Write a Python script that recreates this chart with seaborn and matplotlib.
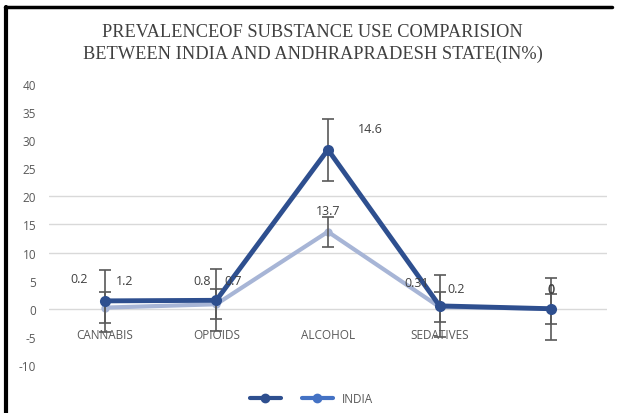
import matplotlib
matplotlib.use("Agg")
import matplotlib.pyplot as plt
from matplotlib.lines import Line2D
import seaborn as sns
import numpy as np
import pandas as pd

# ---- data ----
categories = ["CANNABIS", "OPIOIDS", "ALCOHOL", "SEDATIVES", ""]
series_a = [0.2, 0.8, 13.7, 0.31, 0]     # lower (light) series
series_b = [1.2, 0.7, 14.6, 0.2, 0]      # upper (dark) series, stacked on series_a
err_a = 2.7
err_b = 5.5
legend_labels = ["", "INDIA"]
yticks = [-10, -5, 0, 5, 10, 15, 20, 25, 30, 35, 40]
grid_levels = [0, 10, 15, 20]
title = "PREVALENCEOF SUBSTANCE USE COMPARISION\nBETWEEN INDIA AND ANDHRAPRADESH STATE(IN%)"

# ---- layout-only offsets for data labels (pixels) ----
off_a = [(-25, 29), (-14, 24), (0, 21), (-23, 25), (0, 19)]
off_b = [(20, 20), (17, 20), (42, 21), (17, 17), (0, 20)]

stack_b = np.add(series_a, series_b)
pos = np.arange(len(categories))
df = pd.DataFrame({
    "pos": np.concatenate([pos, pos]),
    "value": np.concatenate([series_a, stack_b]),
    "series": ["A"] * len(pos) + ["B"] * len(pos),
})

sns.set_theme(style="white")
plt.rcParams["font.family"] = ["Open Sans", "DejaVu Sans"]

fig = plt.figure(figsize=(6.17, 4.14), dpi=100)
ax = fig.add_axes([0.079, 0.116, 0.905, 0.679])

dark = "#2E4F8F"
light = "#A7B5D6"
errc = "#595959"

for lv in grid_levels:
    ax.axhline(lv, color="#D9D9D9", lw=1, zorder=0)

ax.errorbar(pos, series_a, yerr=err_a, fmt="none", ecolor=errc, elinewidth=1.2,
            capsize=4, capthick=1.2, zorder=4)
ax.errorbar(pos, stack_b, yerr=err_b, fmt="none", ecolor=errc, elinewidth=1.2,
            capsize=4, capthick=1.2, zorder=4)

sns.lineplot(data=df[df.series == "A"], x="pos", y="value", color=light, lw=3,
             marker="o", markersize=6, markeredgewidth=0, ax=ax, zorder=3, legend=False)
sns.lineplot(data=df[df.series == "B"], x="pos", y="value", color=dark, lw=3.5,
             marker="o", markersize=8, markeredgewidth=0, ax=ax, zorder=5, legend=False)

lab_kw = dict(textcoords="offset pixels", ha="center", va="center", fontsize=9, color="#404040", zorder=6)
for i in range(len(pos)):
    ax.annotate(f"{series_a[i]:g}", (pos[i], series_a[i]), xytext=off_a[i], **lab_kw)
    ax.annotate(f"{series_b[i]:g}", (pos[i], stack_b[i]), xytext=off_b[i], **lab_kw)
    ax.annotate(categories[i], (pos[i], 0), xytext=(0, -26), textcoords="offset pixels",
                ha="center", va="center", fontsize=8.5, color="#595959")

ax.set_xlim(-0.5, len(pos) - 0.5)
ax.set_ylim(-10, 40)
ax.set_yticks(yticks)
ax.set_yticklabels([str(t) for t in yticks], fontsize=8.5, color="#595959")
ax.set_xticks([])
ax.tick_params(axis="y", length=0, pad=9)
ax.set_xlabel("")
ax.set_ylabel("")
for s in ax.spines.values():
    s.set_visible(False)

fig.text(0.507, 0.895, title, ha="center", va="center", fontsize=13.2, color="#404040",
         family=["Liberation Serif", "DejaVu Serif"], linespacing=1.3)

handles = [Line2D([0], [0], color=dark, lw=3, marker="o", markersize=6),
           Line2D([0], [0], color="#4472C4", lw=3, marker="o", markersize=6)]
fig.legend(handles, legend_labels, loc="center", bbox_to_anchor=(0.505, 0.035), ncol=2,
           frameon=False, fontsize=8.5, handlelength=2.6, columnspacing=1.0,
           labelcolor="#595959")

# figure frame (top and left lines)
fig.add_artist(Line2D([0.008, 0.992], [0.981, 0.981], color="black", lw=2.5, transform=fig.transFigure))
fig.add_artist(Line2D([0.009, 0.009], [0.0, 0.981], color="black", lw=3, transform=fig.transFigure))

fig.savefig("out.png", dpi=100, facecolor="white")
